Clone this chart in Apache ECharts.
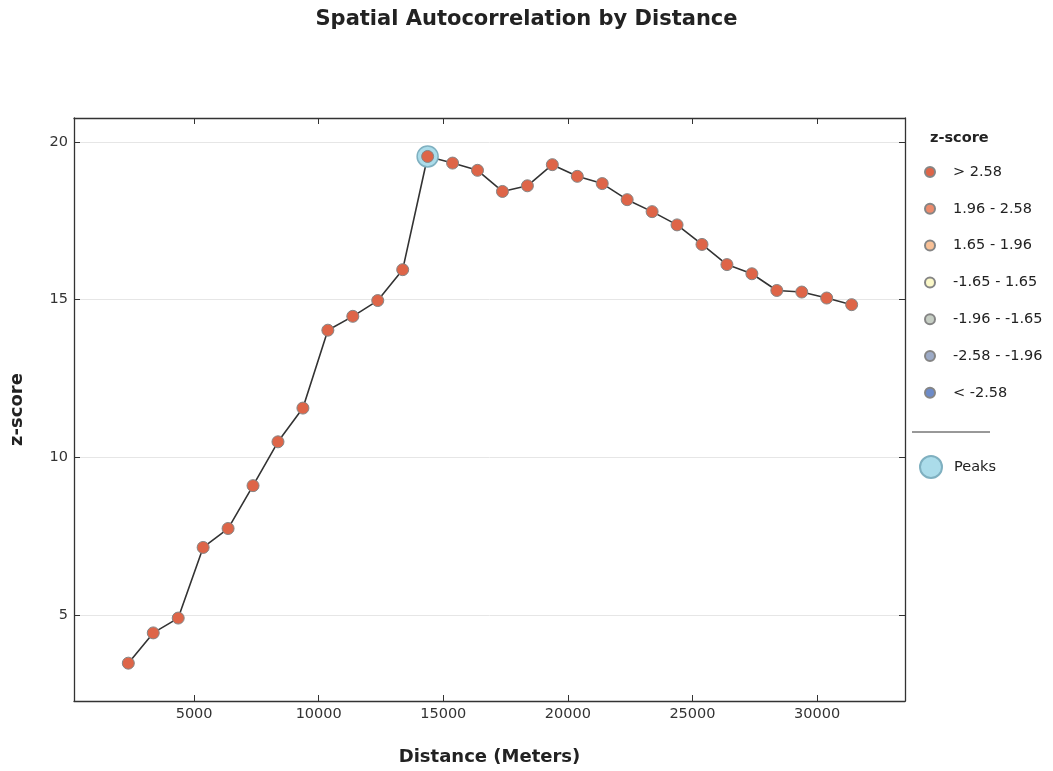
<!DOCTYPE html>
<html>
<head>
<meta charset="utf-8">
<script src="https://cdn.jsdelivr.net/npm/echarts@6/dist/echarts.min.js"></script>
<style>
html,body{margin:0;padding:0;background:#fff;}
#chart{width:1053px;height:771px;}
</style>
</head>
<body>
<div id="chart"></div>
<script>
// ---- data ----
const distances = [2360, 3361, 4362, 5363, 6364, 7365, 8366, 9367, 10368, 11369,
  12370, 13371, 14372, 15373, 16374, 17375, 18376, 19377, 20378, 21379,
  22380, 23381, 24382, 25383, 26384, 27385, 28386, 29387, 30388, 31389];
const zScores = [3.47, 4.43, 4.90, 7.14, 7.74, 9.10, 10.49, 11.56, 14.03, 14.47,
  14.97, 15.95, 19.54, 19.33, 19.10, 18.43, 18.61, 19.28, 18.91, 18.68,
  18.17, 17.79, 17.37, 16.75, 16.11, 15.82, 15.29, 15.24, 15.05, 14.84];
const peakDistances = [14372];
const peakZ = [19.54];
const xTicks = [5000, 10000, 15000, 20000, 25000, 30000];
const yTicks = [5, 10, 15, 20];
const legendNames = ['> 2.58', '1.96 - 2.58', '1.65 - 1.96', '-1.65 - 1.65', '-1.96 - -1.65', '-2.58 - -1.96', '< -2.58'];
const legendColors = ['#de6548', '#ec8b6c', '#f8c096', '#fbf8c8', '#c6cec4', '#9caac6', '#6d8bc8'];
const xRange = [180, 33530];
const yRange = [2.27, 20.76];

const FONT = 'DejaVu Sans';
const pts = distances.map((d, i) => [d, zScores[i]]);
const peaks = peakDistances.map((d, i) => [d, peakZ[i]]);

const chart = echarts.init(document.getElementById('chart'), null, {renderer: 'canvas'});

const axisLineStyle = {color: '#333', width: 1.3};
const catSeries = legendNames.map((n, i) => ({
  name: n,
  type: 'scatter',
  xAxisIndex: 0, yAxisIndex: 0,
  symbol: 'circle',
  symbolSize: 12,
  data: i === 0 ? pts : [],
  z: 5,
  itemStyle: {color: legendColors[i], borderColor: '#858585', borderWidth: 1, opacity: 1}
}));

const option = {
  animation: false,
  backgroundColor: '#fff',
  textStyle: {fontFamily: FONT},
  title: {
    text: 'Spatial Autocorrelation by Distance',
    left: 'center', top: 4,
    textStyle: {fontFamily: FONT, fontWeight: 'bold', fontSize: 21, color: '#222'}
  },
  grid: {left: 74, right: 148, top: 118, bottom: 70, containLabel: false},
  legend: [{
    orient: 'vertical',
    left: 919, top: 159,
    icon: 'circle',
    itemWidth: 36, itemHeight: 10,
    itemGap: 20.8,
    data: legendNames,
    selectedMode: false,
    textStyle: {fontFamily: FONT, fontSize: 14.5, color: '#222', lineHeight: 16}
  }, {
    orient: 'vertical',
    left: 914, top: 450,
    icon: 'circle',
    itemWidth: 36, itemHeight: 22,
    data: ['Peaks'],
    selectedMode: false,
    textStyle: {fontFamily: FONT, fontSize: 14.5, color: '#222', lineHeight: 16}
  }],
  graphic: [{
    type: 'text', left: 930, top: 131,
    style: {text: 'z-score', font: 'bold 14.5px "DejaVu Sans"', fill: '#222'}
  }, {
    type: 'line',
    shape: {x1: 912, y1: 432, x2: 990, y2: 432},
    style: {stroke: '#333', lineWidth: 1}
  }],
  xAxis: [{
    type: 'value', position: 'bottom',
    min: xRange[0], max: xRange[1],
    name: 'Distance (Meters)', nameLocation: 'middle', nameGap: 47,
    nameTextStyle: {fontFamily: FONT, fontWeight: 'bold', fontSize: 18, color: '#222'},
    axisLine: {show: true, lineStyle: axisLineStyle},
    axisTick: {show: true, inside: true, length: 6, customValues: xTicks, lineStyle: {color: '#333'}},
    axisLabel: {show: true, customValues: xTicks, margin: 6, fontFamily: FONT, fontSize: 14.5, color: '#333',
      formatter: v => String(v)},
    splitLine: {show: false}
  }, {
    type: 'value', position: 'top',
    min: xRange[0], max: xRange[1],
    axisLine: {show: true, lineStyle: axisLineStyle},
    axisTick: {show: true, inside: true, length: 6, customValues: xTicks, lineStyle: {color: '#333'}},
    axisLabel: {show: false},
    splitLine: {show: false}
  }],
  yAxis: [{
    type: 'value', position: 'left',
    min: yRange[0], max: yRange[1],
    name: 'z-score', nameLocation: 'middle', nameGap: 48, nameRotate: 90,
    nameTextStyle: {fontFamily: FONT, fontWeight: 'bold', fontSize: 18, color: '#222'},
    axisLine: {show: true, lineStyle: axisLineStyle},
    axisTick: {show: true, inside: true, length: 6, customValues: yTicks, lineStyle: {color: '#333'}},
    axisLabel: {show: true, customValues: yTicks, margin: 6, fontFamily: FONT, fontSize: 14.5, color: '#333'},
    splitLine: {show: true, lineStyle: {color: '#e6e6e6', width: 1}}
  }, {
    type: 'value', position: 'right',
    min: yRange[0], max: yRange[1],
    axisLine: {show: true, lineStyle: axisLineStyle},
    axisTick: {show: true, inside: true, length: 6, customValues: yTicks, lineStyle: {color: '#333'}},
    axisLabel: {show: false},
    splitLine: {show: false}
  }],
  series: [{
    name: 'line',
    type: 'line',
    data: pts,
    showSymbol: false,
    symbol: 'none',
    lineStyle: {color: '#333', width: 1.6},
    z: 3,
    silent: true
  }, {
    name: 'Peaks',
    type: 'scatter',
    data: peaks,
    symbol: 'circle',
    symbolSize: 21,
    z: 4,
    itemStyle: {color: '#abdcea', borderColor: '#7fb0c0', borderWidth: 1.5, opacity: 1}
  }].concat(catSeries)
};
chart.setOption(option);
</script>
</body>
</html>
